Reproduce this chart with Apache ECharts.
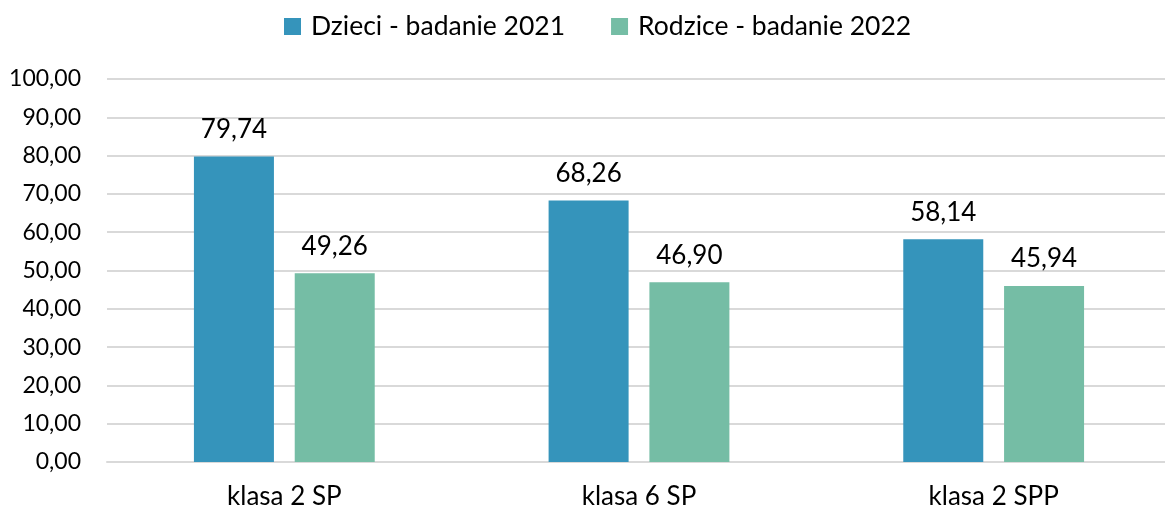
<!DOCTYPE html>
<html>
<head>
<meta charset="utf-8">
<script src="https://cdn.jsdelivr.net/npm/echarts@6/dist/echarts.min.js"></script>
<style>
  html, body { margin: 0; padding: 0; background: #fff; }
  #chart { width: 1165px; height: 511px; }
</style>
</head>
<body>
<div id="chart"></div>
<script>
// Categories and values
const categories = ['klasa 2 SP', 'klasa 6 SP', 'klasa 2 SPP'];
const seriesNames = ['Dzieci - badanie 2021', 'Rodzice - badanie 2022'];
const dzieci2021 = [79.74, 68.26, 58.14];
const rodzice2022 = [49.26, 46.90, 45.94];

const fmt = v => v.toFixed(2).replace('.', ',');
const FONT = 'Lato, "Open Sans", sans-serif';

const chart = echarts.init(document.getElementById('chart'));
const valueLabel = {
  show: true, position: 'top', distance: 14, fontSize: 26, color: '#000',
  formatter: p => fmt(p.value), fontFamily: FONT
};
chart.setOption({
  animation: false,
  textStyle: { fontFamily: FONT },
  legend: {
    top: 8,
    left: 279,
    itemWidth: 17,
    itemHeight: 17,
    itemGap: 46,
    icon: 'rect',
    textStyle: { fontSize: 26.5, color: '#000', fontFamily: FONT, padding: [0, 0, 0, 5] }
  },
  // plot area runs slightly past the right edge of the canvas
  grid: { left: 107, width: 1064, top: 79, bottom: 49, outerBoundsMode: 'none' },
  xAxis: {
    type: 'category',
    data: categories,
    axisLine: { lineStyle: { color: '#D9D9D9', width: 2 } },
    axisTick: { show: false },
    axisLabel: { fontSize: 26, color: '#000', margin: 22, fontFamily: FONT }
  },
  yAxis: {
    type: 'value',
    min: 0,
    max: 100,
    interval: 10,
    axisLine: { show: false },
    axisTick: { show: false },
    splitLine: { lineStyle: { color: '#D9D9D9', width: 2 } },
    axisLabel: { fontSize: 23, color: '#000', margin: 26, formatter: fmt, fontFamily: FONT }
  },
  series: [
    {
      name: seriesNames[0],
      type: 'bar',
      data: dzieci2021,
      barWidth: 80,
      barGap: '26%',
      itemStyle: { color: '#3594BB' },
      label: valueLabel
    },
    {
      name: seriesNames[1],
      type: 'bar',
      data: rodzice2022,
      barWidth: 80,
      barGap: '26%',
      itemStyle: { color: '#75BDA5' },
      label: valueLabel
    }
  ]
});
</script>
</body>
</html>
